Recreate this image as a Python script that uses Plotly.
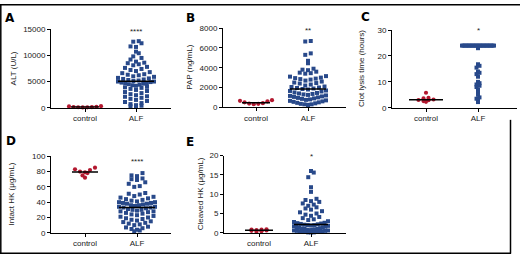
import numpy as np
import plotly.graph_objects as go

W, H = 520, 260
FONT = "Liberation Sans, Arial, sans-serif"
RED = "#b3182f"
BLUE = "#28498a"

categories = ["control", "ALF"]

# ---- data ----
A_control = [300, 250, 180, 150, 120, 100, 80, 60]
A_alf = [12700, 12600, 12300, 11700, 11600, 10700, 10400, 9800, 9500, 9200,
         8800, 8600, 8500, 8300, 8100, 7800, 7600, 7400, 7200, 7000,
         6800, 6600, 6400, 6300, 6200, 6000, 5900, 5700, 5600, 5500, 5400, 5300,
         5200, 5100, 5000, 5000, 4900, 4800, 4700, 4700, 4600, 4500, 4400, 4300, 4200,
         4000, 3900, 3800, 3600, 3400, 3200, 3000, 2800, 2600, 2400, 2200,
         2100, 1900, 1700, 1500, 1300, 1100, 900, 700, 500, 400, 300, 200]

B_control = [720, 650, 600, 500, 420, 380, 350, 320]
B_alf = [6700, 6650, 5450, 5300, 4700, 4450, 3900, 3800, 3750, 3600,
         3500, 3450, 3400, 3150, 3100, 3000, 2950, 2900, 2850, 2800,
         2700, 2600, 2500, 2450, 2400, 2300, 2200, 2100, 2050, 2000,
         1950, 1900, 1850, 1800, 1700, 1650, 1600, 1500, 1450, 1400,
         1350, 1300, 1250, 1200, 1150, 1100, 1050, 1000, 950, 900,
         850, 800, 750, 700, 650, 600, 550, 500, 450, 400,
         350, 300, 300, 250, 200]

C_control = [5.8, 3.8, 3.6, 3.2, 3.0, 2.9, 2.6, 2.3]
C_alf = [16.8, 16.2, 15.5, 14.0, 13.5, 13.0, 12.0, 10.0, 9.5, 9.0,
         8.5, 8.0, 7.0, 6.5, 6.0, 5.0, 4.0, 3.5, 3.0, 2.2, 23.0] + [24.0] * 24

D_control = [85, 83, 82, 80, 79, 78, 75, 72]
D_alf = [78, 75, 74, 71, 70, 69, 66, 64, 61, 60, 52, 51, 50, 48, 47,
         46, 45, 44, 43, 42, 41, 40, 40, 39, 39, 38, 38, 37, 36, 36,
         35, 34, 34, 33, 33, 32, 31, 30, 30, 29, 28, 28, 27, 26, 25,
         24, 23, 22, 21, 20, 19, 18, 17, 16, 15, 14, 13, 12, 11, 10,
         8, 7, 6, 5, 4, 3, 2]

E_control = [0.9, 0.85, 0.8, 0.7, 0.6, 0.5, 0.4, 0.3]
E_alf = [16.0, 15.6, 14.4, 11.8, 10.6, 8.8, 8.5, 8.2, 8.0, 7.6, 7.3, 7.0, 6.6,
         6.3, 6.0, 5.6, 5.3, 5.0, 4.7, 4.4, 4.1, 3.8, 3.5, 3.3, 3.0, 2.8, 2.6,
         2.5, 2.4, 2.3, 2.2, 2.1, 2.0, 2.0, 1.9, 1.8, 1.7, 1.6, 1.5, 1.4, 1.3,
         1.2, 1.1, 1.0, 1.0, 0.9, 0.8, 0.8, 0.7, 0.6, 0.6, 0.5, 0.5, 0.4, 0.4,
         0.3, 0.3, 0.2, 0.2, 0.1, 0.1, 0.1]

titles = ["ALT (U/L)", "PAP (ng/mL)", "Clot lysis time (hours)",
          "Intact HK (μg/mL)", "Cleaved HK (μg/mL)"]
letters = ["A", "B", "C", "D", "E"]
stars = ["****", "**", "*", "****", "*"]
star_y = [15000, 8000, 30, 96, 20]
yticks = [[0, 5000, 10000, 15000], [0, 2000, 4000, 6000, 8000], [0, 10, 20, 30],
          [0, 20, 40, 60, 80, 100], [0, 5, 10, 15, 20]]

# ---- layout geometry (pixels) ----
panels = [
    dict(ctl=A_control, alf=A_alf, x0=51, x1=171, c0=85, c1=136, yt=26, yb=107.5,
         bin=5, step=5.5, half_c=16, half_a=18, medc=14, meda=18, title_x=13, let=(10, 14), sy=-2),
    dict(ctl=B_control, alf=B_alf, x0=223, x1=346, c0=256, c1=308, yt=25, yb=107,
         bin=5, step=5.5, half_c=16, half_a=18, medc=14, meda=18, title_x=190, let=(190, 14), sy=-2),
    dict(ctl=C_control, alf=C_alf, x0=392, x1=517, c0=426, c1=478, yt=27, yb=107.5,
         bin=2.5, step=3, half_c=16, half_a=16, medc=17, meda=16, title_x=362, let=(365, 13), sy=0),
    dict(ctl=D_control, alf=D_alf, x0=51, x1=171, c0=85, c1=137, yt=157.7, yb=237,
         bin=5, step=5.5, half_c=12, half_a=18, medc=13, meda=18, title_x=12, let=(11, 142), sy=-2),
    dict(ctl=E_control, alf=E_alf, x0=224, x1=346, c0=259, c1=311, yt=157, yb=237,
         bin=5, step=5.5, half_c=16, half_a=17, medc=14, meda=17, title_x=200, let=(190, 143), sy=-1),
]


def swarm(vals, px_per_unit_y, bin_px, step_px, max_half_px):
    v = np.asarray(vals, dtype=float)
    bins = np.round(v * px_per_unit_y / bin_px).astype(int)
    off = np.zeros(len(v))
    for b in np.unique(bins):
        idx = np.where(bins == b)[0]
        idx = idx[np.argsort(v[idx])]
        n = len(idx)
        if n == 1:
            continue
        sp = min(step_px, 2 * max_half_px / (n - 1))
        pos = (np.arange(n) - (n - 1) / 2) * sp
        order = np.argsort(np.abs(pos) + 1e-6 * np.sign(pos))
        off[idx] = pos[order]
    return off


fig = go.Figure()
layout = dict(width=W, height=H, margin=dict(l=0, r=0, t=0, b=0),
              paper_bgcolor="white", plot_bgcolor="white", showlegend=False,
              font=dict(family=FONT, size=8, color="#222"))
shapes = []
annotations = []

for i, p in enumerate(panels):
    k = "" if i == 0 else str(i + 1)
    xa, ya = "xaxis" + k, "yaxis" + k
    xr, yr = "x" + k, "y" + k
    ymax = yticks[i][-1]
    span = (p["x1"] - p["x0"]) / (p["c1"] - p["c0"])
    r0 = -(p["c0"] - p["x0"]) / (p["c1"] - p["c0"])
    xpx = (p["c1"] - p["c0"])  # pixels per x unit
    ypx = (p["yb"] - p["yt"]) / ymax

    layout[xa] = dict(domain=[p["x0"] / W, p["x1"] / W], range=[r0, r0 + span],
                      anchor=yr, showline=True, linecolor="black", linewidth=1,
                      showgrid=False, zeroline=False, ticks="outside", ticklen=3,
                      tickcolor="black", tickvals=[0, 1], ticktext=categories,
                      tickfont=dict(size=8, family=FONT, color="#222"), fixedrange=True)
    layout[ya] = dict(domain=[1 - p["yb"] / H, 1 - p["yt"] / H], range=[0, ymax],
                      anchor=xr, showline=True, linecolor="black", linewidth=1,
                      showgrid=False, zeroline=False, ticks="outside", ticklen=3,
                      tickcolor="black", tickvals=yticks[i],
                      ticktext=[str(t) for t in yticks[i]],
                      tickfont=dict(size=8, family=FONT, color="#222"), fixedrange=True)

    oc = swarm(p["ctl"], ypx, p["bin"], 5, p["half_c"]) / xpx
    oa = swarm(p["alf"], ypx, p["bin"], p["step"], p["half_a"]) / xpx
    fig.add_trace(go.Scatter(x=0 + oc, y=p["ctl"], mode="markers", xaxis=xr, yaxis=yr,
                             cliponaxis=False,
                             marker=dict(symbol="circle", size=4.2, color=RED, line=dict(width=0))))
    fig.add_trace(go.Scatter(x=1 + oa, y=p["alf"], mode="markers", xaxis=xr, yaxis=yr,
                             cliponaxis=False,
                             marker=dict(symbol="square", size=4, color=BLUE, line=dict(width=0))))
    for cx, vals, half, lw in [(0, p["ctl"], p["medc"], 1.5), (1, p["alf"], p["meda"], 3 if i == 2 else 1.5)]:
        m = float(np.median(vals))
        shapes.append(dict(type="line", xref=xr, yref=yr, x0=cx - half / xpx, x1=cx + half / xpx,
                           y0=m, y1=m, line=dict(color="black" if i != 2 or cx == 0 else BLUE, width=lw)))
    annotations.append(dict(x=1, y=star_y[i], xref=xr, yref=yr, text=stars[i], showarrow=False,
                            xanchor="center", yanchor="middle", yshift=p["sy"],
                            font=dict(size=8, family=FONT, color="#222")))
    annotations.append(dict(x=p["title_x"] / W, y=1 - (p["yt"] + p["yb"]) / 2 / H, xref="paper",
                            yref="paper", text=titles[i], textangle=-90, showarrow=False,
                            xanchor="center", yanchor="middle",
                            font=dict(size=8, family=FONT, color="#222")))
    annotations.append(dict(x=p["let"][0] / W, y=1 - p["let"][1] / H, xref="paper", yref="paper",
                            text="<b>" + letters[i] + "</b>", showarrow=False,
                            xanchor="center", yanchor="middle",
                            font=dict(size=12, family="DejaVu Sans, sans-serif", color="black")))

# outer frame
frame = [(0.8, 0.5, 0.8, 258.5), (0, 0.8, 520, 0.8), (0, 258.2, 511, 258.2), (510.5, 120, 510.5, 258.5)]
for (fx0, fy0, fx1, fy1) in frame:
    shapes.append(dict(type="line", xref="paper", yref="paper", x0=fx0 / W, x1=fx1 / W,
                       y0=1 - fy0 / H, y1=1 - fy1 / H, line=dict(color="black", width=1.5)))

layout["shapes"] = shapes
layout["annotations"] = annotations
fig.update_layout(**layout)
fig.write_html("out.html", config={"displayModeBar": False, "staticPlot": True},
               post_script="document.body.style.margin='0';document.body.style.padding='0';")
